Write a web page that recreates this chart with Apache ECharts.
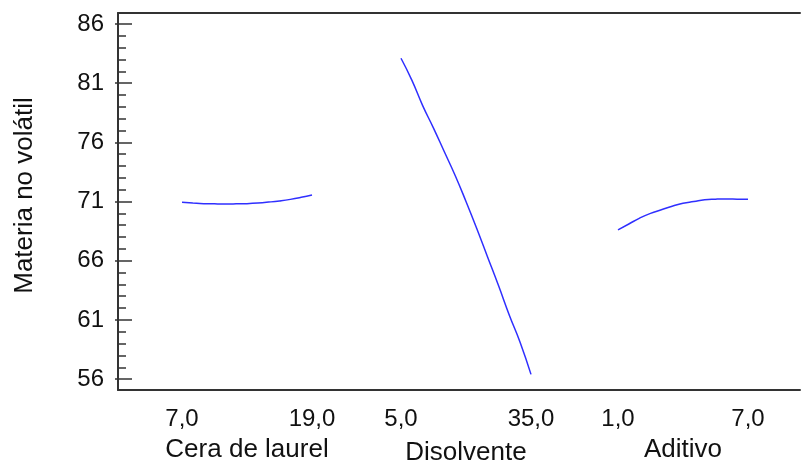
<!DOCTYPE html>
<html>
<head>
<meta charset="utf-8">
<script src="https://cdn.jsdelivr.net/npm/echarts@6/dist/echarts.min.js"></script>
<style>html,body{margin:0;padding:0;background:#fff;}#c{width:802px;height:463px;}</style>
</head>
<body>
<div id="c"></div>
<script>
// Data
const yTicks = [56, 61, 66, 71, 76, 81, 86];
const yMinorTicks = [];
for (let v = 56; v <= 86; v++) yMinorTicks.push(v);

const ceraX = [7, 8, 9, 10, 11, 12, 13, 14, 15, 16, 17, 18, 19];
const ceraY = [70.93, 70.87, 70.82, 70.8, 70.79, 70.8, 70.82, 70.87, 70.95, 71.05, 71.18, 71.35, 71.55];

const disolX = [5, 7.5, 10, 12.5, 15, 17.5, 20, 22.5, 25, 27.5, 30, 32.5, 35];
const disolY = [83.1, 81.25, 79.1, 77.2, 75.2, 73.2, 71.0, 68.7, 66.3, 63.9, 61.4, 59.1, 56.4];

const aditX = [1, 1.5, 2, 2.5, 3, 3.5, 4, 4.5, 5, 5.5, 6, 6.5, 7];
const aditY = [68.6, 69.1, 69.6, 70.0, 70.3, 70.6, 70.85, 71.0, 71.15, 71.2, 71.22, 71.2, 71.18];

const factorNames = ['Cera de laurel', 'Disolvente', 'Aditivo'];
const factorRanges = [[7, 19], [5, 35], [1, 7]];
const yName = 'Materia no volátil';

const Y_MIN = 55.08, Y_MAX = 86.92;
const FONT = '"Liberation Sans", Arial, sans-serif';
const LINE_COLOR = '#2f2fff';
const AXIS_COLOR = '#333';

function pairs(xs, ys) { return xs.map((x, i) => [x, ys[i]]); }
const fmt = v => v.toFixed(1).replace('.', ',');

const gridTop = 13, gridHeight = 377;
const panelLeft = [182, 401, 618];
const panelWidth = 130;

const grids = [{ left: 118, top: gridTop, width: 682, height: gridHeight, outerBoundsMode: 'none', containLabel: false }];
panelLeft.forEach(l => grids.push({ left: l, top: gridTop, width: panelWidth, height: gridHeight, outerBoundsMode: 'none', containLabel: false }));

const frameLine = { show: true, onZero: false, lineStyle: { color: AXIS_COLOR, width: 2 } };
const xAxes = [
  { type: 'value', gridIndex: 0, position: 'bottom', min: 0, max: 1, axisLine: frameLine, axisTick: { show: false }, axisLabel: { show: false }, splitLine: { show: false } },
  { type: 'value', gridIndex: 0, position: 'top', min: 0, max: 1, axisLine: frameLine, axisTick: { show: false }, axisLabel: { show: false }, splitLine: { show: false } }
];
const nameGaps = [47, 50, 47];
factorRanges.forEach((r, i) => {
  xAxes.push({
    type: 'value', gridIndex: i + 1, min: r[0], max: r[1],
    axisLine: { show: false }, axisTick: { show: false }, splitLine: { show: false },
    axisLabel: { customValues: r, formatter: fmt, color: '#111', fontFamily: FONT, fontSize: 24, margin: 17, hideOverlap: false },
    name: factorNames[i], nameLocation: 'middle', nameGap: nameGaps[i],
    nameTextStyle: { color: '#111', fontFamily: FONT, fontSize: 26 }
  });
});

const yAxes = [
  {
    type: 'value', gridIndex: 0, position: 'left', min: Y_MIN, max: Y_MAX,
    axisLine: frameLine,
    axisTick: { show: true, inside: true, length: 14, customValues: yTicks, lineStyle: { color: AXIS_COLOR, width: 1.5 } },
    axisLabel: { customValues: yTicks, color: '#111', fontFamily: FONT, fontSize: 24, margin: 14 },
    splitLine: { show: false },
    name: yName, nameLocation: 'middle', nameRotate: 90, nameGap: 80,
    nameTextStyle: { color: '#111', fontFamily: FONT, fontSize: 26, padding: [0, 0, 0, 12] }
  },
  {
    type: 'value', gridIndex: 0, position: 'left', min: Y_MIN, max: Y_MAX,
    axisLine: { show: false },
    axisTick: { show: true, inside: true, length: 8, customValues: yMinorTicks, lineStyle: { color: AXIS_COLOR, width: 1.5 } },
    axisLabel: { show: false }, splitLine: { show: false }
  },
  {
    type: 'value', gridIndex: 0, position: 'right', min: Y_MIN, max: Y_MAX,
    axisLine: { show: false },
    axisTick: { show: true, inside: true, length: 3, customValues: yTicks, lineStyle: { color: AXIS_COLOR, width: 1.5 } },
    axisLabel: { show: false }, splitLine: { show: false }
  }
];
[1, 2, 3].forEach(g => yAxes.push({ type: 'value', gridIndex: g, min: Y_MIN, max: Y_MAX, show: false, splitLine: { show: false } }));

const seriesData = [pairs(ceraX, ceraY), pairs(disolX, disolY), pairs(aditX, aditY)];
const series = seriesData.map((d, i) => ({
  type: 'line', xAxisIndex: i + 2, yAxisIndex: i + 3, data: d,
  showSymbol: false, smooth: true, lineStyle: { color: LINE_COLOR, width: 1.5 }, silent: true, animation: false
}));

const chart = echarts.init(document.getElementById('c'), null, { renderer: 'canvas' });
chart.setOption({
  animation: false,
  backgroundColor: '#fff',
  grid: grids, xAxis: xAxes, yAxis: yAxes, series: series
});
</script>
</body>
</html>
